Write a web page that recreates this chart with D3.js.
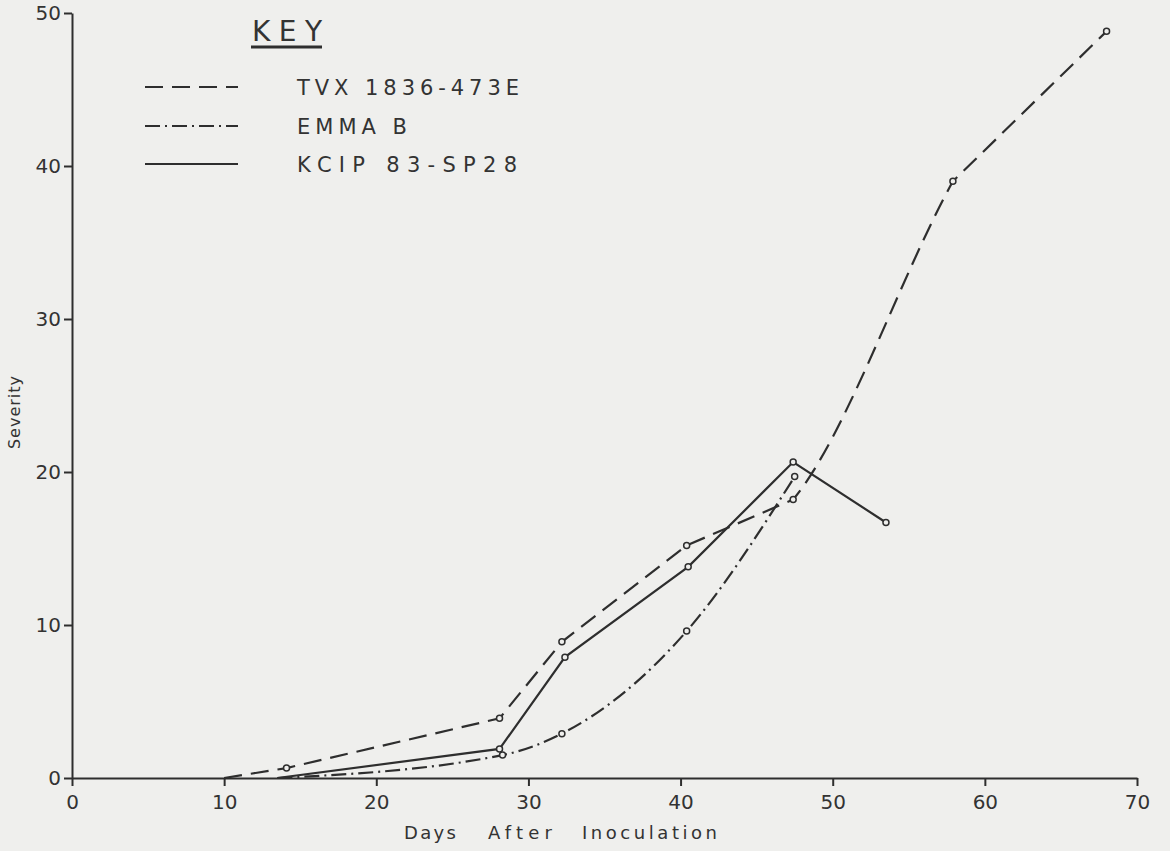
<!DOCTYPE html>
<html>
<head>
<meta charset="utf-8">
<script src="https://cdn.jsdelivr.net/npm/d3@7"></script>
<style>
  body { margin: 0; background: #efefed; }
  svg { display: block; }
  text { font-family: "DejaVu Sans", sans-serif; fill: #333; }
</style>
</head>
<body>
<div id="chart"></div>
<script>
// values
var xTicks = [0, 10, 20, 30, 40, 50, 60, 70];
var yTicks = [0, 10, 20, 30, 40, 50];

var tvxDays = [10, 14.1, 28.1, 32.2, 40.4, 47.4, 57.9, 68.0];
var tvxSev  = [0, 0.65, 3.9, 8.9, 15.2, 18.2, 39.0, 48.8];
// hand-drawn slopes (severity per day) of the bend between day 47 and day 58
var tvxBendSlopes = [1.2, 1.8];

var emmaDays = [13.5, 28.3, 32.2, 40.4, 47.5];
var emmaSev  = [0, 1.5, 2.9, 9.6, 19.7];

var kcipDays = [13.5, 28.1, 32.4, 40.5, 47.4, 53.5];
var kcipSev  = [0, 1.9, 7.9, 13.8, 20.65, 16.7];

var seriesNames = ["TVX 1836-473E", "EMMA  B", "KCIP  83-SP28"];
var dashes = ["18,9", "15,5,2,5", null];
var xTitleWords = ["Days", "After", "Inoculation"];

var W = 1170, H = 851;
var ink = "#2e2e2e";

var svg = d3.select("#chart").append("svg")
  .attr("width", W).attr("height", H);

svg.append("rect").attr("width", W).attr("height", H).attr("fill", "#efefed");

var x = d3.scaleLinear().domain([0, 70]).range([72, 1137]);
var y = d3.scaleLinear().domain([0, 50]).range([778, 13]);

// axes
var xAxis = svg.append("g")
  .attr("transform", "translate(0," + y(0) + ")")
  .call(d3.axisBottom(x).tickValues(xTicks).tickSize(8).tickSizeOuter(0).tickPadding(9));

var yAxis = svg.append("g")
  .attr("transform", "translate(" + x(0) + ",0)")
  .call(d3.axisLeft(y).tickValues(yTicks).tickSize(8).tickSizeOuter(0).tickPadding(3));

[xAxis, yAxis].forEach(function(g) {
  g.select(".domain").attr("stroke", ink).attr("stroke-width", 2);
  g.selectAll(".tick line").attr("stroke", ink).attr("stroke-width", 2);
  g.selectAll(".tick text")
    .style("font-family", "DejaVu Sans, sans-serif")
    .style("font-size", "20px")
    .attr("fill", "#333");
});

// axis titles
svg.append("text")
  .attr("transform", "translate(20,412) rotate(-90)")
  .attr("text-anchor", "middle")
  .style("font-size", "16px")
  .style("letter-spacing", "1px")
  .text("Severity");

var wordX = [404, 488, 582], wordLen = [52, 64, 135];
xTitleWords.forEach(function(w, i) {
  svg.append("text")
    .attr("x", wordX[i]).attr("y", 839)
    .attr("textLength", wordLen[i]).attr("lengthAdjust", "spacing")
    .style("font-size", "18px")
    .text(w);
});

function drawMarks(pts, i, pathD) {
  svg.append("path")
    .attr("d", pathD)
    .attr("fill", "none")
    .attr("stroke", ink)
    .attr("stroke-width", 2.2)
    .attr("stroke-dasharray", dashes[i]);

  svg.selectAll(".m" + i)
    .data(pts.filter(function(p) { return p[1] > 0; }))
    .enter().append("circle")
    .attr("class", "m" + i)
    .attr("cx", function(p) { return x(p[0]); })
    .attr("cy", function(p) { return y(p[1]); })
    .attr("r", 3)
    .attr("fill", "#efefed")
    .attr("stroke", ink)
    .attr("stroke-width", 1.5);
}

function toPts(days, sev) {
  return days.map(function(d, j) { return [d, sev[j]]; });
}

// TVX: straight pieces, one drawn bend between the 47 and 58 day points
var tvx = toPts(tvxDays, tvxSev);
var p = d3.path();
tvx.forEach(function(pt, j) {
  if (j == 0) { p.moveTo(x(pt[0]), y(pt[1])); return; }
  if (j == 6) {
    var a = tvx[5], h = (pt[0] - a[0]) / 3;
    p.bezierCurveTo(
      x(a[0] + h), y(a[1] + tvxBendSlopes[0] * h),
      x(pt[0] - h), y(pt[1] - tvxBendSlopes[1] * h),
      x(pt[0]), y(pt[1]));
  } else {
    p.lineTo(x(pt[0]), y(pt[1]));
  }
});
drawMarks(tvx, 0, p.toString());

var emma = toPts(emmaDays, emmaSev);
drawMarks(emma, 1, d3.line()
  .x(function(q) { return x(q[0]); })
  .y(function(q) { return y(q[1]); })
  .curve(d3.curveMonotoneX)(emma));

var kcip = toPts(kcipDays, kcipSev);
drawMarks(kcip, 2, d3.line()
  .x(function(q) { return x(q[0]); })
  .y(function(q) { return y(q[1]); })(kcip));

// key
svg.append("text")
  .attr("x", 252).attr("y", 41)
  .attr("textLength", 70).attr("lengthAdjust", "spacing")
  .style("font-size", "28px")
  .text("KEY");
svg.append("line").attr("x1", 251).attr("x2", 322).attr("y1", 47).attr("y2", 47)
  .attr("stroke", ink).attr("stroke-width", 3);

var keyY = [87, 126, 164];
var keyLen = [222, 110, 220];
seriesNames.forEach(function(name, i) {
  svg.append("line")
    .attr("x1", 145).attr("x2", 238)
    .attr("y1", keyY[i]).attr("y2", keyY[i])
    .attr("stroke", ink).attr("stroke-width", 2.2)
    .attr("stroke-dasharray", dashes[i]);
  svg.append("text")
    .attr("x", 297).attr("y", keyY[i] + 8)
    .attr("textLength", keyLen[i]).attr("lengthAdjust", "spacing")
    .style("font-size", "21px")
    .text(name);
});
</script>
</body>
</html>
